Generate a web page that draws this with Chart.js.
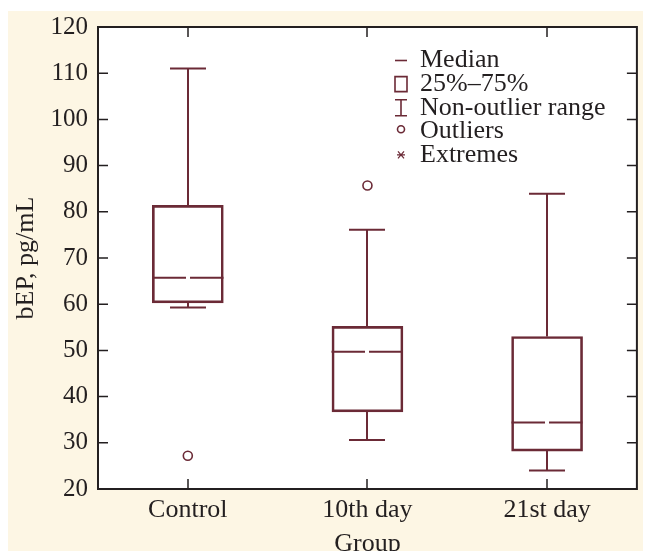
<!DOCTYPE html>
<html>
<head>
<meta charset="utf-8">
<script src="https://cdn.jsdelivr.net/npm/chart.js@4.4.1/dist/chart.umd.min.js"></script>
<style>
  html, body { margin: 0; background: #ffffff; }
  #wrap { position: absolute; left: 8px; top: 11px; width: 635px; height: 540px; background: #fdf6e4; }
  canvas { display: block; }
</style>
</head>
<body>
<div id="wrap"><canvas id="chart" width="635" height="540"></canvas></div>
<script>
// ---- data ----
const groups      = ['Control', '10th day', '21st day'];
const whiskerHigh = [111.0, 76.1, 83.9];
const q3          = [81.4, 55.2, 53.0];
const medians     = [65.7, 49.7, 34.4];
const q1          = [60.3, 36.7, 28.2];
const whiskerLow  = [59.3, 30.6, 24.0];
const outlierGroups = ['Control', '10th day'];
const outlierValues = [27.2, 85.7];
const legendItems = ['Median', '25%\u201375%', 'Non-outlier range', 'Outliers', 'Extremes'];

const MAROON = '#6b2a36';
const INK = '#231f20';
const FONT = 'Liberation Serif, Times New Roman, serif';

// white plot area
const plotBg = {
  id: 'plotBg',
  beforeDraw(chart) {
    const { ctx, chartArea: a } = chart;
    ctx.save();
    ctx.fillStyle = '#ffffff';
    ctx.fillRect(a.left, a.top, a.right - a.left, a.bottom - a.top);
    ctx.restore();
  }
};

// whiskers, caps and split median line
const boxParts = {
  id: 'boxParts',
  afterDatasetsDraw(chart) {
    const { ctx, scales: { x, y } } = chart;
    const half = 71 / 2, cap = 18;
    ctx.save();
    ctx.strokeStyle = MAROON;
    ctx.lineWidth = 2;
    groups.forEach((g, i) => {
      const px = Math.round(x.getPixelForValue(i));
      const seg = (x1, y1, x2, y2) => { ctx.beginPath(); ctx.moveTo(x1, y1); ctx.lineTo(x2, y2); ctx.stroke(); };
      const hi = y.getPixelForValue(whiskerHigh[i]), lo = y.getPixelForValue(whiskerLow[i]);
      seg(px, y.getPixelForValue(q3[i]), px, hi);
      seg(px, y.getPixelForValue(q1[i]), px, lo);
      seg(px - cap, hi, px + cap, hi);
      seg(px - cap, lo, px + cap, lo);
      const m = y.getPixelForValue(medians[i]);
      seg(px - half, m, px - 2, m);
      seg(px + 2, m, px + half, m);
    });
    ctx.restore();
  }
};

// frame with inward ticks on all sides
const frame = {
  id: 'frame',
  afterDraw(chart) {
    const { ctx, chartArea: a, scales: { x, y } } = chart;
    ctx.save();
    ctx.strokeStyle = INK;
    ctx.lineWidth = 1.5;
    y.ticks.forEach((t, i) => {
      const py = y.getPixelForTick(i);
      ctx.beginPath();
      ctx.moveTo(a.left, py); ctx.lineTo(a.left + 10, py);
      ctx.moveTo(a.right, py); ctx.lineTo(a.right - 10, py);
      ctx.stroke();
    });
    x.ticks.forEach((t, i) => {
      const px = Math.round(x.getPixelForTick(i));
      ctx.beginPath();
      ctx.moveTo(px, a.bottom); ctx.lineTo(px, a.bottom - 10);
      ctx.moveTo(px, a.top); ctx.lineTo(px, a.top + 10);
      ctx.stroke();
    });
    ctx.lineWidth = 2;
    ctx.strokeRect(a.left, a.top, a.right - a.left, a.bottom - a.top);
    ctx.restore();
  }
};

// legend box in the upper right of the plot
const boxLegend = {
  id: 'boxLegend',
  afterDraw(chart) {
    const { ctx, chartArea: a } = chart;
    const sx = a.left + 303, tx = a.left + 322;
    ctx.save();
    ctx.font = '26px ' + FONT;
    ctx.textBaseline = 'middle';
    ctx.fillStyle = INK;
    legendItems.forEach((label, k) => {
      const cy = a.top + 33.5 + k * 23.6;
      ctx.fillText(label, tx, cy);
      ctx.strokeStyle = MAROON;
      ctx.lineWidth = 1.6;
      ctx.beginPath();
      if (k === 0) {
        ctx.moveTo(sx - 6, cy); ctx.lineTo(sx + 6, cy);
      } else if (k === 1) {
        ctx.rect(sx - 6, cy - 7.5, 12, 15);
      } else if (k === 2) {
        ctx.moveTo(sx, cy - 8); ctx.lineTo(sx, cy + 8);
        ctx.moveTo(sx - 6, cy - 8); ctx.lineTo(sx + 6, cy - 8);
        ctx.moveTo(sx - 6, cy + 8); ctx.lineTo(sx + 6, cy + 8);
      } else if (k === 3) {
        ctx.arc(sx, cy - 2, 3.5, 0, Math.PI * 2);
      } else {
        ctx.lineWidth = 1.2;
        ctx.moveTo(sx - 4, cy); ctx.lineTo(sx + 4, cy);
        ctx.moveTo(sx - 3, cy - 3.5); ctx.lineTo(sx + 3, cy + 3.5);
        ctx.moveTo(sx + 3, cy - 3.5); ctx.lineTo(sx - 3, cy + 3.5);
      }
      ctx.stroke();
    });
    ctx.restore();
  }
};

new Chart(document.getElementById('chart'), {
  type: 'bar',
  data: {
    labels: groups,
    datasets: [
      {
        label: '25%\u201375%',
        data: groups.map((g, i) => [q1[i], q3[i]]),
        backgroundColor: 'rgba(255,255,255,0)',
        borderColor: MAROON,
        borderWidth: 2,
        borderSkipped: false,
        barThickness: 71
      },
      {
        type: 'line',
        label: 'Outliers',
        data: outlierGroups.map((g, i) => ({ x: g, y: outlierValues[i] })),
        showLine: false,
        pointStyle: 'circle',
        pointRadius: 4.5,
        pointBorderWidth: 1.6,
        pointBorderColor: MAROON,
        pointBackgroundColor: '#ffffff'
      }
    ]
  },
  options: {
    responsive: false,
    devicePixelRatio: 1,
    animation: false,
    layout: { padding: { left: 0, top: 16, right: 4, bottom: 0 } },
    plugins: { legend: { display: false }, tooltip: { enabled: false } },
    scales: {
      x: {
        offset: true,
        grid: { display: false, drawTicks: false },
        border: { display: false },
        ticks: { color: INK, font: { family: FONT, size: 26 }, padding: 6 },
        title: { display: true, text: 'Group', color: INK, font: { family: FONT, size: 26 }, padding: { top: 0, bottom: -9 } },
        afterFit: (s) => { s.height = 62; s.paddingLeft = 0; s.paddingRight = 0; }
      },
      y: {
        min: 20, max: 120,
        grid: { display: false, drawTicks: false },
        border: { display: false },
        ticks: { stepSize: 10, color: INK, font: { family: FONT, size: 25 }, padding: 10 },
        title: { display: true, text: 'bEP, pg/mL', color: INK, font: { family: FONT, size: 26 }, padding: { top: 3, bottom: 0 } },
        afterFit: (s) => { s.width = 90; s.paddingTop = 0; s.paddingBottom = 0; }
      }
    }
  },
  plugins: [plotBg, boxParts, frame, boxLegend]
});
</script>
</body>
</html>
